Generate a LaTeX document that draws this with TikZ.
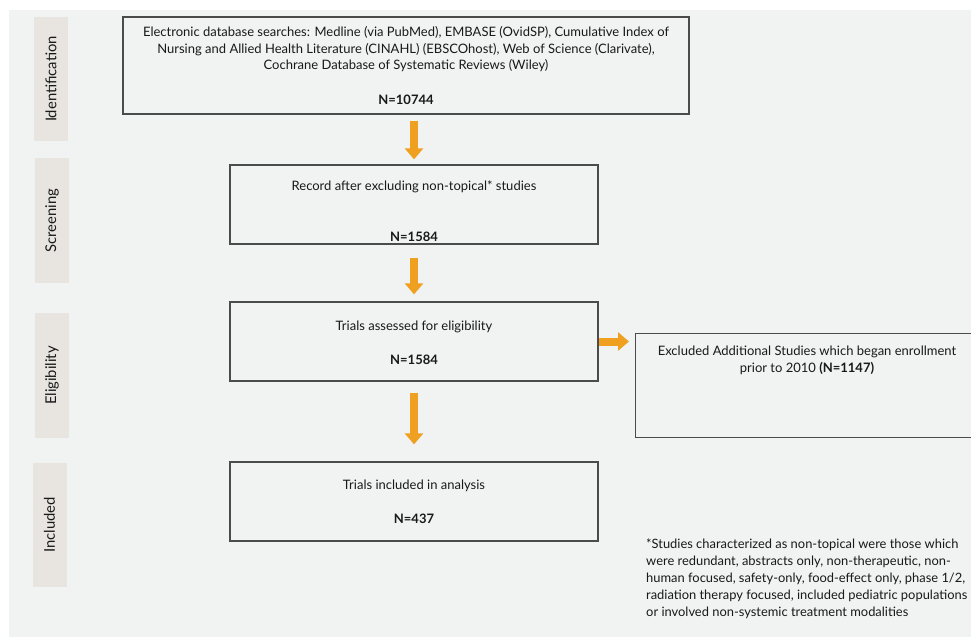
\documentclass[tikz,border=0pt]{standalone}
\usepackage{fontspec}
\setmainfont{Lato}
\usetikzlibrary{arrows.meta}
\definecolor{bgcol}{RGB}{241,242,242}
\definecolor{barcol}{RGB}{232,229,225}
\definecolor{boxcol}{RGB}{75,75,75}
\definecolor{flowcol}{RGB}{240,160,32}
\definecolor{txtcol}{RGB}{25,25,25}
\tikzset{
  stage/.style={fill=barcol, text=txtcol, rotate=90, minimum height=34pt, font=\fontsize{14.8}{16}\selectfont},
  flowbox/.style={draw=boxcol, line width=1.3pt},
  boxtext/.style={text=txtcol, align=center, font=\fontsize{13}{16.5}\selectfont},
  flow/.style={draw=flowcol, line width=8pt, -{Triangle[width=18pt,length=11pt]}}
}
\begin{document}
\begin{tikzpicture}[x=1pt,y=-1pt]
\tikzstyle{every node}+=[inner sep=0pt]
\useasboundingbox (0,0) rectangle (971,637);
\clip (0,0) rectangle (971,637);
\fill [bgcol] (9,10) rectangle (971,637);
% stages
\node [stage, minimum width=124pt] (idbar) at (51,79) {Identification};
\node [stage, minimum width=125pt] (scrbar) at (52,220.5) {Screening};
\node [stage, minimum width=125pt] (elbar) at (52,375.5) {Eligibility};
\node [stage, minimum width=124pt] (inbar) at (49.5,525) {Included};
% boxes
\node [flowbox, minimum width=566pt, minimum height=97pt] (ident) at (406,65.5) {};
\node [flowbox, minimum width=368pt, minimum height=79pt] (screen) at (414,204.5) {};
\node [flowbox, minimum width=368pt, minimum height=79pt] (elig) at (414,341.5) {};
\node [flowbox, minimum width=368pt, minimum height=79pt] (incl) at (414,501.5) {};
\node [flowbox, minimum width=350pt, minimum height=104pt, anchor=north west] (excl) at (635,333) {};
% texts
\node [boxtext] (identtxt) at (406,49.5) {Electronic database searches: Medline (via PubMed), EMBASE (OvidSP), Cumulative Index of\\
Nursing and Allied Health Literature (CINAHL) (EBSCOhost), Web of Science (Clarivate),\\
Cochrane Database of Systematic Reviews (Wiley)};
\node [boxtext] (identn) at (406,100) {\textbf{N=10744}};
\node [boxtext] (screentxt) at (414,187) {Record after excluding non-topical* studies};
\node [boxtext] (screenn) at (414,237) {\textbf{N=1584}};
\node [boxtext] (eligtxt) at (414,327) {Trials assessed for eligibility};
\node [boxtext] (eligtn) at (414,360) {\textbf{N=1584}};
\node [boxtext] (incltxt) at (414,486) {Trials included in analysis};
\node [boxtext] (incln) at (414,519) {\textbf{N=437}};
\node [boxtext] (excltxt) at (807,360.5) {Excluded Additional Studies which began enrollment\\
prior to 2010 \textbf{(N=1147)}};
\node [boxtext, align=left, anchor=west, font=\fontsize{12.9}{17}\selectfont] (note) at (646,579) {*Studies characterized as non-topical were those which\\
were redundant, abstracts only, non-therapeutic, non-\\
human focused, safety-only, food-effect only, phase 1/2,\\
radiation therapy focused, included pediatric populations\\
or involved non-systemic treatment modalities};
% arrows
\draw [flow, shorten <=6pt, shorten >=5pt] (ident.south -| screen) -- (screen.north);
\draw [flow, shorten <=13pt, shorten >=7pt] (screen.south) -- (elig.north);
\draw [flow, shorten <=11pt, shorten >=17pt] (elig.south) -- (incl.north);
\draw [flow, shorten >=6pt] (elig.east) -- (excl.west |- elig.east);
\end{tikzpicture}
\end{document}
